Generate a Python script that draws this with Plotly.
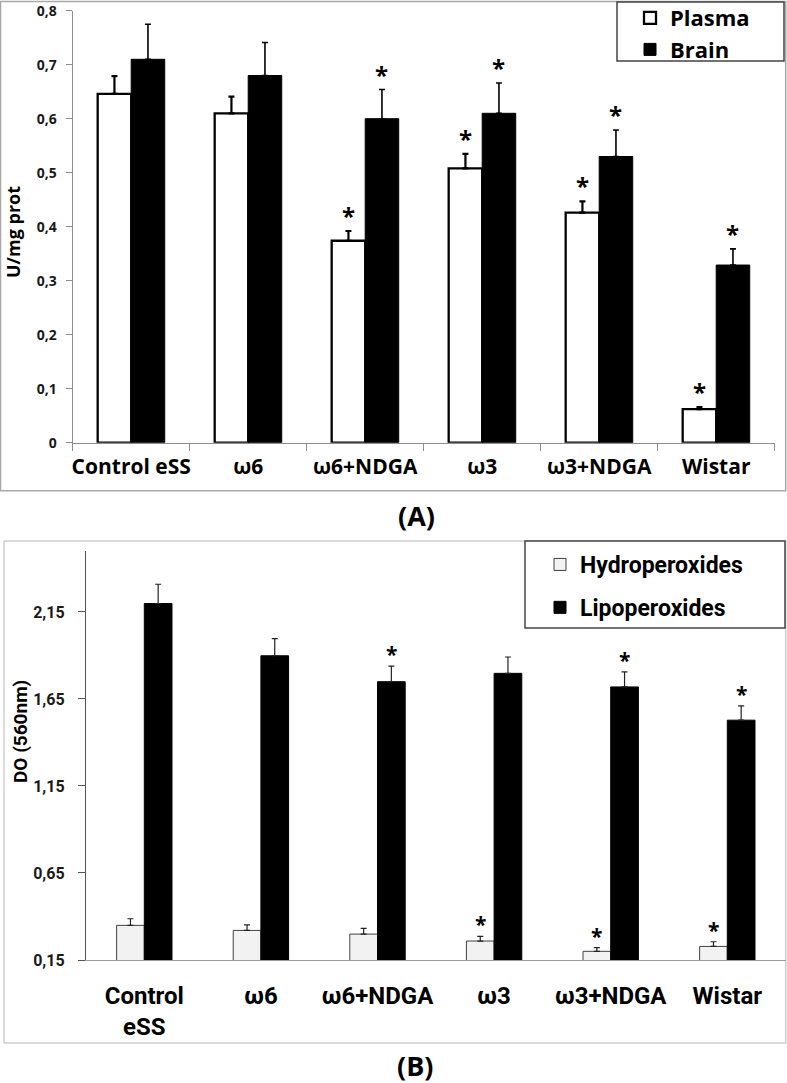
import plotly.graph_objects as go

# ---------------- data ----------------
groups_a = ["Control eSS", "ω6", "ω6+NDGA", "ω3", "ω3+NDGA", "Wistar"]
groups_b = ["Control<br>eSS", "ω6", "ω6+NDGA", "ω3", "ω3+NDGA", "Wistar"]

plasma = [0.646, 0.610, 0.374, 0.508, 0.426, 0.062]
plasma_err = [0.033, 0.031, 0.018, 0.027, 0.021, 0.004]
brain = [0.710, 0.680, 0.600, 0.610, 0.530, 0.329]
brain_err = [0.065, 0.061, 0.054, 0.056, 0.049, 0.030]
plasma_sig = [False, False, True, True, True, True]
brain_sig = [False, False, True, True, True, True]

hydro = [0.349, 0.320, 0.299, 0.259, 0.200, 0.228]
hydro_err = [0.038, 0.032, 0.033, 0.027, 0.021, 0.027]
lipo = [2.198, 1.898, 1.749, 1.797, 1.719, 1.528]
lipo_err = [0.111, 0.099, 0.090, 0.094, 0.087, 0.082]
hydro_sig = [False, False, False, True, True, True]
lipo_sig = [False, False, True, False, True, True]

yticks_a = [0, 0.1, 0.2, 0.3, 0.4, 0.5, 0.6, 0.7, 0.8]
yticks_b = [0.15, 0.65, 1.15, 1.65, 2.15]

# ---------------- layout helpers ----------------
W, H = 787, 1083
def fx(p):
    return p / W
def fy(p):
    return 1 - p / H

FA = "Open Sans"
FB = "Roboto"
zeros = [0] * 6

wa = 0.2865   # bar width (category units) panel A
wb = 0.2375   # bar width panel B

fig = go.Figure()

fig.add_trace(go.Bar(
    x=groups_a, y=plasma, name="Plasma", xaxis="x", yaxis="y", legend="legend",
    width=wa, offset=-wa,
    marker=dict(color="white", line=dict(color="black", width=2.3)),
    error_y=dict(type="data", array=plasma_err, arrayminus=zeros, symmetric=False,
                 color="black", thickness=2.2, width=3),
))
fig.add_trace(go.Bar(
    x=groups_a, y=brain, name="Brain", xaxis="x", yaxis="y", legend="legend",
    width=wa, offset=0,
    marker=dict(color="black", line=dict(color="black", width=1)),
    error_y=dict(type="data", array=brain_err, arrayminus=zeros, symmetric=False,
                 color="black", thickness=1.6, width=3),
))
fig.add_trace(go.Bar(
    x=groups_b, y=hydro, name="Hydroperoxides", xaxis="x2", yaxis="y2", legend="legend2",
    legendgroup="h", width=wb, offset=-wb,
    marker=dict(color="#f2f2f2", line=dict(color="#404040", width=1)),
    error_y=dict(type="data", array=hydro_err, arrayminus=zeros, symmetric=False,
                 color="#222222", thickness=1.2, width=3),
))
fig.add_trace(go.Bar(
    x=groups_b, y=lipo, name="Lipoperoxides", xaxis="x2", yaxis="y2", legend="legend2",
    legendgroup="l", width=wb, offset=0,
    marker=dict(color="black", line=dict(color="black", width=1)),
    error_y=dict(type="data", array=lipo_err, arrayminus=zeros, symmetric=False,
                 color="#222222", thickness=1.2, width=3),
))

annotations = []
def stars(vals, errs, sig, shift, xref, yref, size, ysh):
    for i, (v, e, s) in enumerate(zip(vals, errs, sig)):
        if s:
            annotations.append(dict(
                x=i + shift, y=v + e, xref=xref, yref=yref, text="*", showarrow=False,
                yanchor="bottom", yshift=ysh,
                font=dict(family=FA, size=size, color="black", weight="bold")))

stars(plasma, plasma_err, plasma_sig, -wa / 2, "x", "y", 24, -3)
stars(brain, brain_err, brain_sig, wa / 2, "x", "y", 24, -3)
stars(hydro, hydro_err, hydro_sig, -wb / 2, "x2", "y2", 21, -4)
stars(lipo, lipo_err, lipo_sig, wb / 2, "x2", "y2", 21, -4)

annotations += [
    dict(x=fx(13), y=fy(232), xref="paper", yref="paper", text="U/mg prot", textangle=-90,
         xanchor="center", yanchor="middle",
         showarrow=False, font=dict(family=FA, size=18, color="black", weight="bold")),
    dict(x=fx(20), y=fy(732), xref="paper", yref="paper", text="DO (560nm)", textangle=-90,
         xanchor="center", yanchor="middle",
         showarrow=False, font=dict(family=FB, size=19, color="black", weight="bold")),
    dict(x=fx(416), y=fy(515), xref="paper", yref="paper", text="(A)",
         xanchor="center", yanchor="middle",
         showarrow=False, font=dict(family=FA, size=27, color="black", weight="bold")),
    dict(x=fx(415), y=fy(1065), xref="paper", yref="paper", text="(B)",
         xanchor="center", yanchor="middle",
         showarrow=False, font=dict(family=FA, size=27, color="black", weight="bold")),
]

shapes = [
    # panel frames
    dict(type="rect", xref="paper", yref="paper", x0=fx(0.5), x1=fx(785.7), y0=fy(490.7), y1=fy(1.5),
         line=dict(color="#a8a8a8", width=1.5), layer="below"),
    dict(type="rect", xref="paper", yref="paper", x0=fx(4), x1=fx(785.7), y0=fy(1043), y1=fy(541),
         line=dict(color="#cfcfcf", width=1.5), layer="below"),
    # legend boxes
    dict(type="rect", xref="paper", yref="paper", x0=fx(617), x1=fx(784), y0=fy(61), y1=fy(2),
         line=dict(color="#444444", width=1.5), fillcolor="white", layer="below"),
    dict(type="rect", xref="paper", yref="paper", x0=fx(525), x1=fx(785), y0=fy(628), y1=fy(541),
         line=dict(color="#444444", width=1.5), fillcolor="white", layer="below"),
]

fig.update_layout(
    width=W, height=H, margin=dict(l=0, r=0, t=0, b=0, autoexpand=False),
    paper_bgcolor="white", plot_bgcolor="rgba(0,0,0,0)",
    separators=", ",
    barmode="overlay",
    showlegend=True,
    annotations=annotations,
    shapes=shapes,
    xaxis=dict(domain=[fx(72.7), fx(774.7)], anchor="y", type="category",
               categoryorder="array", categoryarray=groups_a, range=[-0.5, 5.5],
               showline=True, linecolor="#8c8c8c", linewidth=1.3,
               ticks="outside", tickson="boundaries", ticklen=7, tickcolor="#8c8c8c", tickwidth=1.3,
               showgrid=False, zeroline=False, ticklabelstandoff=5, tickangle=0, automargin=False,
               tickfont=dict(family=FA, size=21, color="black", weight="bold")),
    yaxis=dict(domain=[fy(442.7), fy(10.7)], anchor="x", range=[0, 0.8],
               tickvals=yticks_a, showline=True, linecolor="#8c8c8c", linewidth=1.3,
               ticks="outside", ticklen=6, tickcolor="#8c8c8c", tickwidth=1.3,
               showgrid=False, zeroline=False, ticklabelstandoff=6, automargin=False,
               tickfont=dict(family=FA, size=14, color="#1a1a1a", weight="bold")),
    xaxis2=dict(domain=[fx(86), fx(785.6)], anchor="y2", type="category",
                categoryorder="array", categoryarray=groups_b, range=[-0.5, 5.5],
                showline=True, linecolor="#9a9a9a", linewidth=1.3, ticks="",
                showgrid=False, zeroline=False, ticklabelstandoff=14, tickangle=0, automargin=False,
                tickfont=dict(family=FB, size=24, color="black", weight="bold")),
    yaxis2=dict(domain=[fy(960), fy(551)], anchor="x2", range=[0.15, 2.5],
                tickvals=yticks_b, showline=True, linecolor="#555555", linewidth=1.3,
                ticks="outside", ticklen=7, tickcolor="#555555", tickwidth=1.3,
                showgrid=False, zeroline=False, ticklabelstandoff=10, automargin=False,
                tickfont=dict(family=FB, size=16, color="#1a1a1a", weight="bold")),
    legend=dict(x=fx(630), y=fy(-3), xanchor="left", yanchor="top",
                bgcolor="rgba(0,0,0,0)", borderwidth=0,
                font=dict(family=FA, size=22, color="black", weight="bold")),
    legend2=dict(x=fx(540), y=fy(543), xanchor="left", yanchor="top",
                 bgcolor="rgba(0,0,0,0)", borderwidth=0, traceorder="grouped", tracegroupgap=10,
                 font=dict(family=FB, size=23, color="black", weight="bold")),
)

fig.write_html("out.html",
               config={"displayModeBar": False},
               post_script="document.body.style.margin='0';document.body.style.overflow='hidden';")
